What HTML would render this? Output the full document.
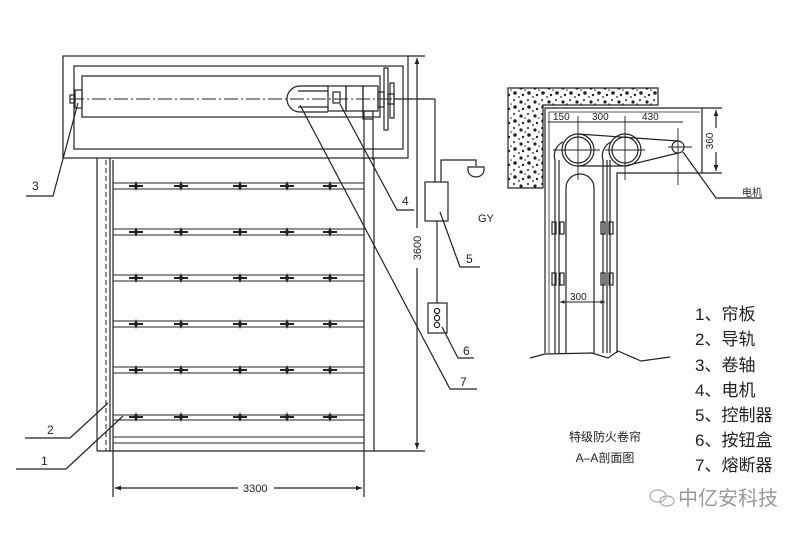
<!DOCTYPE html>
<html><head><meta charset="utf-8"><style>
html,body{margin:0;padding:0;background:#fff;}
svg{display:block;}
text{font-family:"Liberation Sans","Noto Sans CJK SC",sans-serif;fill:#222;}
</style></head><body>
<svg width="800" height="533" viewBox="0 0 800 533" xmlns="http://www.w3.org/2000/svg">
<defs>
<marker id="ar" viewBox="0 0 10 10" refX="10" refY="5" markerWidth="7" markerHeight="5" orient="auto-start-reverse"><path d="M0,1 L10,5 L0,9 z" fill="#222"/></marker>
<g id="star"><path d="M0,-5 L1.4,-1.4 L5,0 L1.4,1.4 L0,5 L-1.4,1.4 L-5,0 L-1.4,-1.4 z" fill="#222"/><rect x="-7" y="-1" width="14" height="2" fill="#222"/></g>
<pattern id="conc" width="14" height="14" patternUnits="userSpaceOnUse"><rect width="14" height="14" fill="#fff"/><circle cx="3" cy="4" r="1.6" fill="#222"/><circle cx="10" cy="2" r="1" fill="#222"/><circle cx="11" cy="9" r="1.8" fill="#222"/><circle cx="5" cy="11" r="1.2" fill="#222"/><circle cx="7" cy="6" r="0.8" fill="#222"/><circle cx="1" cy="13" r="0.9" fill="#222"/></pattern>
</defs>
<g stroke="#222" stroke-width="1.2" fill="none">
<rect x="63" y="56" width="345" height="102"/>
<rect x="74" y="66" width="329" height="83"/>
<rect x="82" y="76" width="298" height="41"/>
<line x1="70" y1="99" x2="420" y2="99" stroke-dasharray="14,3,2,3" stroke-width="1"/>
<rect x="70" y="95" width="5" height="8"/>
<rect x="75" y="90" width="7" height="18"/>
<path d="M300,86 A13,13 0 0 0 300,112"/>
<line x1="300" y1="86" x2="328" y2="86"/><line x1="300" y1="112" x2="328" y2="112"/>
<line x1="298" y1="91" x2="328" y2="91"/><line x1="298" y1="107" x2="328" y2="107"/>
<rect x="328" y="86" width="18" height="25"/>
<rect x="333" y="92" width="7" height="11"/>
<rect x="346" y="86" width="17" height="25"/>
<rect x="363" y="86" width="15" height="25"/>
<rect x="363" y="111" width="10" height="8"/>
<rect x="378" y="92" width="6" height="15"/>
<rect x="384" y="68" width="4" height="62"/>
<rect x="390" y="83" width="4" height="35"/>
<rect x="388" y="94" width="6" height="10"/>
<line x1="364" y1="111" x2="364" y2="160"/><line x1="373" y1="119" x2="373" y2="160"/>
<line x1="394" y1="99" x2="435" y2="99"/>
<line x1="435" y1="99" x2="435" y2="182"/>
<line x1="97" y1="158" x2="97" y2="451"/>
<line x1="110" y1="158" x2="110" y2="451"/>
<line x1="106" y1="160" x2="106" y2="451" stroke-dasharray="5,3" stroke-width="1"/>
<line x1="113" y1="160" x2="113" y2="451"/>
<line x1="364" y1="158" x2="364" y2="451"/>
<line x1="374" y1="158" x2="374" y2="451"/>
<line x1="97" y1="451" x2="374" y2="451"/>
<g stroke-width="1.1">
<line x1="113" y1="183" x2="364" y2="183"/><line x1="113" y1="189" x2="364" y2="189"/>
<line x1="113" y1="229" x2="364" y2="229"/><line x1="113" y1="235" x2="364" y2="235"/>
<line x1="113" y1="275" x2="364" y2="275"/><line x1="113" y1="281" x2="364" y2="281"/>
<line x1="113" y1="321" x2="364" y2="321"/><line x1="113" y1="327" x2="364" y2="327"/>
<line x1="113" y1="367" x2="364" y2="367"/><line x1="113" y1="373" x2="364" y2="373"/>
<line x1="113" y1="415" x2="364" y2="415"/><line x1="113" y1="420" x2="364" y2="420"/>
<line x1="113" y1="437" x2="364" y2="437"/><line x1="113" y1="443" x2="364" y2="443"/>
</g>
<line x1="408" y1="56" x2="425" y2="56"/><line x1="374" y1="451" x2="425" y2="451"/>
<line x1="417" y1="58" x2="417" y2="228" marker-start="url(#ar)"/>
<line x1="417" y1="268" x2="417" y2="449" marker-end="url(#ar)"/>
<line x1="113" y1="451" x2="113" y2="497"/><line x1="364" y1="451" x2="364" y2="497"/>
<line x1="115" y1="488" x2="238" y2="488" marker-start="url(#ar)"/>
<line x1="274" y1="488" x2="362" y2="488" marker-end="url(#ar)"/>
<rect x="425" y="182" width="23" height="39"/>
<polyline points="441,182 441,160 476,160 476,166"/>
<path d="M468,167 L484,167 L484,170 A8,7 0 0 1 468,170 z"/>
<line x1="437" y1="221" x2="437" y2="303"/>
<rect x="428" y="303" width="19" height="30"/>
<circle cx="437" cy="311" r="2.6"/><circle cx="437" cy="318" r="2.6"/><circle cx="437" cy="325" r="2.6"/>
<polyline points="78,103 53,196 26,196"/>
<polyline points="340,104 397,210 414,210"/>
<polyline points="300,105 450,389 477,389"/>
<polyline points="440,212 460,267 480,267"/>
<polyline points="442,327 458,358 474,358"/>
<polyline points="108,403 70,438 25,438"/>
<polyline points="123,416 66,469 16,469"/>
<path d="M508,88 H658 V105 H543 V188 H508 Z" fill="url(#conc)"/>
<polyline points="545,353 545,108 702,108 702,173 617,173 617,353"/>
<line x1="549" y1="112" x2="549" y2="353" stroke-width="0.8"/>
<line x1="549" y1="112" x2="700" y2="112" stroke-width="0.8"/>
<line x1="702" y1="108" x2="722" y2="108"/><line x1="702" y1="173" x2="722" y2="173"/>
<line x1="716" y1="110" x2="716" y2="128" marker-start="url(#ar)"/>
<line x1="716" y1="152" x2="716" y2="171" marker-end="url(#ar)"/>
<line x1="548" y1="122" x2="683" y2="122" stroke-width="0.9"/>
<line x1="578" y1="116" x2="578" y2="180" stroke-width="0.9"/>
<line x1="625" y1="116" x2="625" y2="180" stroke-width="0.9"/>
<line x1="678" y1="128" x2="678" y2="185" stroke-width="0.9"/>
<line x1="553" y1="150" x2="600" y2="150" stroke-width="0.9"/>
<line x1="605" y1="150" x2="645" y2="150" stroke-width="0.9"/>
<line x1="668" y1="147" x2="692" y2="147" stroke-width="0.9"/>
<circle cx="578" cy="150" r="16"/><circle cx="578" cy="150" r="13"/>
<circle cx="625" cy="150" r="16"/><circle cx="625" cy="150" r="13"/>
<circle cx="678" cy="147" r="6"/>
<line x1="578" y1="134" x2="678" y2="141"/>
<line x1="625" y1="166" x2="678" y2="153"/>
<line x1="578" y1="166" x2="625" y2="166"/>
<line x1="555" y1="353" x2="555" y2="160"/><path d="M555,160 A15,15 0 0 1 563,142"/>
<line x1="559" y1="353" x2="559" y2="160"/>
<path d="M566,353 V188 A14,14 0 0 1 594,188 V353"/>
<line x1="603" y1="353" x2="603" y2="160"/><path d="M603,160 A15,15 0 0 1 611,142"/>
<line x1="607" y1="353" x2="607" y2="160"/>
<line x1="610" y1="353" x2="610" y2="160"/>
<rect x="552" y="222" width="4" height="12"/><rect x="560" y="222" width="4" height="12"/>
<rect x="552" y="273" width="4" height="12"/><rect x="560" y="273" width="4" height="12"/>
<rect x="601" y="222" width="4" height="12"/><rect x="609" y="222" width="4" height="12"/>
<rect x="601" y="273" width="4" height="12"/><rect x="609" y="273" width="4" height="12"/>
<line x1="560" y1="302" x2="605" y2="302" marker-start="url(#ar)" marker-end="url(#ar)" stroke-width="0.9"/>
<polyline points="530,358 545,354 592,353 608,358 618,351 641,361 670,357"/>
<polyline points="683,152 716,198 762,198"/>
</g>
<g fill="#222">
<use href="#star" x="136" y="186"/><use href="#star" x="181" y="186"/><use href="#star" x="240" y="186"/><use href="#star" x="287" y="186"/><use href="#star" x="330" y="186"/>
<use href="#star" x="136" y="232"/><use href="#star" x="181" y="232"/><use href="#star" x="240" y="232"/><use href="#star" x="287" y="232"/><use href="#star" x="330" y="232"/>
<use href="#star" x="136" y="278"/><use href="#star" x="181" y="278"/><use href="#star" x="240" y="278"/><use href="#star" x="287" y="278"/><use href="#star" x="330" y="278"/>
<use href="#star" x="136" y="324"/><use href="#star" x="181" y="324"/><use href="#star" x="240" y="324"/><use href="#star" x="287" y="324"/><use href="#star" x="330" y="324"/>
<use href="#star" x="136" y="370"/><use href="#star" x="181" y="370"/><use href="#star" x="240" y="370"/><use href="#star" x="287" y="370"/><use href="#star" x="330" y="370"/>
<use href="#star" x="136" y="417"/><use href="#star" x="181" y="417"/><use href="#star" x="240" y="417"/><use href="#star" x="287" y="417"/><use href="#star" x="330" y="417"/>
</g>
<g font-size="12">
<text x="32" y="190">3</text>
<text x="402" y="205">4</text>
<text x="466" y="263">5</text>
<text x="463" y="355">6</text>
<text x="460" y="386">7</text>
<text x="47" y="434">2</text>
<text x="41" y="465">1</text>
<text x="243" y="492" font-size="11">3300</text>
<text transform="translate(421,248) rotate(-90)" font-size="11" text-anchor="middle">3600</text>
<text x="478" y="222" font-size="11">GY</text>
<text x="553" y="120" font-size="10">150</text>
<text x="592" y="120" font-size="10">300</text>
<text x="642" y="120" font-size="10">430</text>
<text transform="translate(713,141) rotate(-90)" font-size="10" text-anchor="middle">360</text>
<text x="570" y="300" font-size="10">300</text>
<text x="742" y="196" font-size="10">电机</text>
<text x="605" y="441" font-size="12" text-anchor="middle">特级防火卷帘</text>
<text x="605" y="462" font-size="12" text-anchor="middle">A–A剖面图</text>
</g>
<g font-size="17">
<text x="695" y="320">1、帘板</text>
<text x="695" y="345">2、导轨</text>
<text x="695" y="371">3、卷轴</text>
<text x="695" y="396">4、电机</text>
<text x="695" y="421">5、控制器</text>
<text x="695" y="446">6、按钮盒</text>
<text x="695" y="471">7、熔断器</text>
</g>
<g stroke="#aaa" fill="none" stroke-width="1.2"><ellipse cx="658" cy="496" rx="8" ry="6"/><ellipse cx="667" cy="501" rx="7" ry="5"/></g>
<text x="678" y="505" font-size="20" style="fill:#999">中亿安科技</text>
</svg>
</body></html>
